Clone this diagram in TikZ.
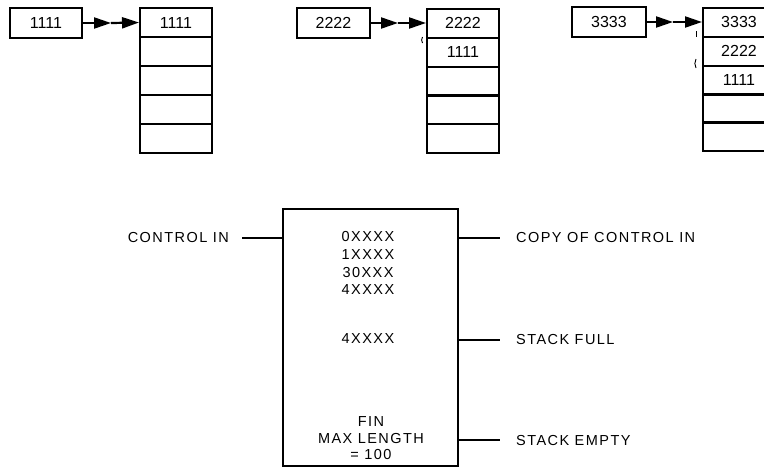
\documentclass[tikz,border=0pt]{standalone}
\usepackage{fontspec}
\setmainfont{Liberation Sans}
\newfontfamily\lowfont[LetterSpace=10]{Liberation Sans}
\usetikzlibrary{arrows.meta}
\begin{document}
\begin{tikzpicture}[x=1pt,y=-1pt,
  inbox/.style={draw, line width=2.8pt, minimum width=72pt, minimum height=30pt, inner sep=0pt, font=\fontsize{16}{19}\selectfont},
  cell/.style={draw, line width=2pt, minimum width=72pt, minimum height=29pt, inner sep=0pt, font=\fontsize{16}{19}\selectfont},
  push/.style={line width=2.2pt, -{Triangle[length=17pt,width=11pt]}},
  wire/.style={line width=2pt},
  lab/.style={font=\lowfont\fontsize{14.5}{17}\selectfont, inner sep=0pt},
  speck/.style={line width=0.9pt}
]
\clip (0,0) rectangle (764,467);
\fill[white] (0,0) rectangle (764,467);

% ---- panel 1
\node[inbox] (in1) at (46,23) {1111};
\node[cell] (s1a) at (176,22.5) {1111};
\node[cell] (s1b) at (176,51.5) {};
\node[cell] (s1c) at (176,80.5) {};
\node[cell] (s1d) at (176,109.5) {};
\node[cell] (s1e) at (176,138.5) {};
\coordinate (m1) at (111,23);
\draw[push] (in1.east) -- (m1);
\draw[push] (m1) -- (s1a.west);

% ---- panel 2
\node[inbox, minimum width=73pt] (in2) at (333.5,23) {2222};
\node[cell] (s2a) at (463,23) {2222};
\node[cell] (s2b) at (463,52) {1111};
\node[cell] (s2c) at (463,81) {};
\node[cell] (s2d) at (463,109.5) {};
\node[cell] (s2e) at (463,138) {};
\coordinate (m2) at (398,23);
\draw[push] (in2.east) -- (m2);
\draw[push] (m2) -- (s2a.west);
\draw[speck] (422.5,37) to[bend right=30] (422.5,43);

% ---- panel 3
\node[inbox, minimum width=74pt] (in3) at (609,22) {3333};
\node[cell] (s3a) at (739,22) {3333};
\node[cell] (s3b) at (739,51) {2222};
\node[cell] (s3c) at (739,80) {1111};
\node[cell] (s3d) at (739,108) {};
\node[cell] (s3e) at (739,136.5) {};
\coordinate (m3) at (673,22);
\draw[push] (in3.east) -- (m3);
\draw[push] (m3) -- (s3a.west);
\draw[speck] (696,31) -- (696,37);
\draw[speck] (696,59) to[bend right=25] (696,68);

% ---- control block
\node[draw, line width=2.2pt, minimum width=175pt, minimum height=257pt, inner sep=0pt] (main) at (370.5,337.5) {};

\node[lab] (c0) at (368,237) {0XXXX};
\node[lab] (c1) at (368,255) {1XXXX};
\node[lab] (c2) at (368,272.5) {30XXX};
\node[lab] (c3) at (368,290) {4XXXX};
\node[lab] (c4) at (368,338.5) {4XXXX};
\node[lab] (c5) at (371,422) {FIN};
\node[lab] (c6) at (371,438.5) {MAX LENGTH};
\node[lab] (c7) at (371,455) {= 100};

\node[lab, anchor=east, inner xsep=13pt] (cin) at (242,238) {CONTROL IN};
\draw[wire] (cin.east) -- (cin.east -| main.west);

\node[lab, anchor=west, inner xsep=16pt] (cpy) at (500,238) {COPY OF CONTROL IN};
\draw[wire] (cpy.west -| main.east) -- (cpy.west);

\node[lab, anchor=west, inner xsep=16pt] (full) at (500,340) {STACK FULL};
\draw[wire] (full.west -| main.east) -- (full.west);

\node[lab, anchor=west, inner xsep=16pt] (empty) at (500,440) {STACK EMPTY};
\draw[wire] (empty.west -| main.east) -- (empty.west);
\end{tikzpicture}
\end{document}
